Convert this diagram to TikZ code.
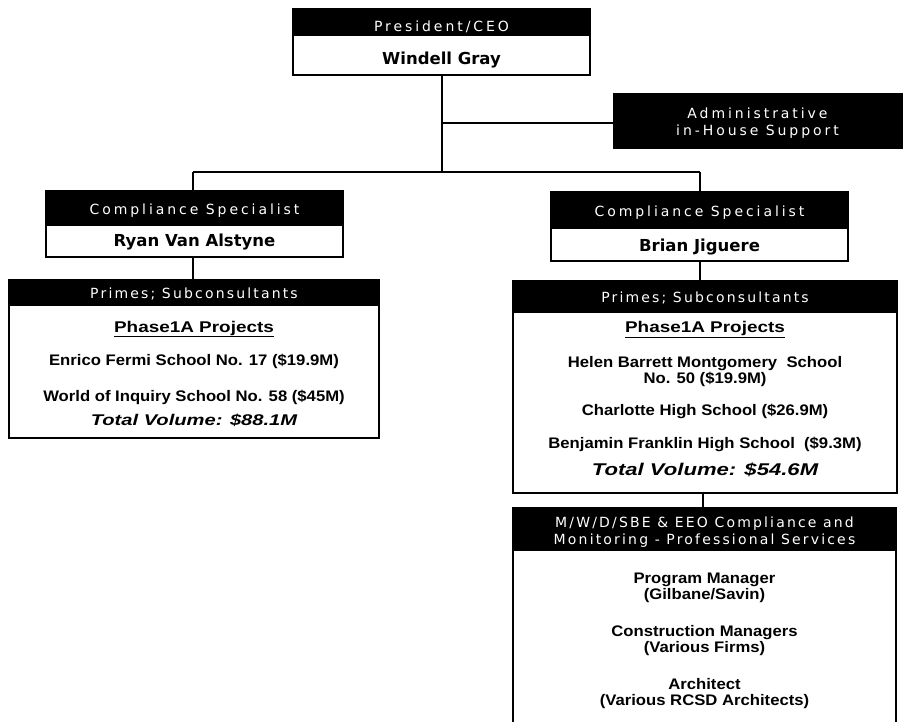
\documentclass[tikz,border=0pt]{standalone}
\usepackage{fontspec}
\newfontfamily\hdrfont[LetterSpace=21]{DejaVu Sans}
\newfontfamily\hdrnarrow[LetterSpace=15.5]{DejaVu Sans}
\newfontfamily\namefont{DejaVu Sans}
\newfontfamily\bodyfont[FakeStretch=1.09]{Liberation Sans}
\newfontfamily\phasefont[FakeStretch=1.22]{Liberation Sans}
\newfontfamily\totalfont[FakeStretch=1.3]{Liberation Sans}
\begin{document}
\begin{tikzpicture}[x=1pt,y=-1pt,
  boxhead/.style={draw=black,fill=black,line width=1pt,inner sep=0pt},
  boxbody/.style={draw=black,fill=white,line width=1.2pt,inner sep=0pt},
  hdrtxt/.style={text=white,font=\hdrfont\fontsize{14}{16}\selectfont,anchor=base,inner sep=0pt},
  hdrtxtn/.style={text=white,font=\hdrnarrow\fontsize{14}{16}\selectfont,anchor=base,inner sep=0pt},
  nametxt/.style={font=\namefont\bfseries\fontsize{16.5}{18}\selectfont,anchor=base,inner sep=0pt},
  bodytxt/.style={font=\bodyfont\bfseries\fontsize{15.3}{17}\selectfont,anchor=base,inner sep=0pt},
  phasetxt/.style={font=\phasefont\bfseries\fontsize{15.5}{17}\selectfont,anchor=base,inner sep=0pt},
  totaltxt/.style={font=\totalfont\bfseries\itshape\fontsize{15.5}{17}\selectfont,anchor=base,inner sep=0pt},
  conn/.style={line width=1.6pt}]
\useasboundingbox (0,0) rectangle (912,721);
\clip (0,0) rectangle (912,721);
% President
\node[boxbody,minimum width=297pt,minimum height=66pt] (pbox) at (441.5,42) {};
\node[boxhead,minimum width=297pt,minimum height=26pt] (phead) at (441.5,22) {};
\node[hdrtxt] (ptitle) at (441.5,31.5) {President/CEO};
\node[nametxt] (pname) at (441.5,64.5) {Windell Gray};
% Admin
\node[boxhead,minimum width=289pt,minimum height=55pt] (admin) at (757.5,120.5) {};
\node[hdrtxt] (adm1) at (757.5,118) {Administrative};
\node[hdrtxt] (adm2) at (757.5,135) {in-House Support};
% Left compliance
\node[boxbody,minimum width=297pt,minimum height=66pt] (lcbox) at (194.5,224) {};
\node[boxhead,minimum width=297pt,minimum height=34pt] (lchead) at (194.5,208) {};
\node[hdrtxt] (lctitle) at (194.5,214.5) {Compliance Specialist};
\node[nametxt] (lcname) at (194.5,246) {Ryan Van Alstyne};
% Right compliance
\node[boxbody,minimum width=297pt,minimum height=69pt] (rcbox) at (699.5,226.5) {};
\node[boxhead,minimum width=297pt,minimum height=36pt] (rchead) at (699.5,210) {};
\node[hdrtxt] (rctitle) at (699.5,216) {Compliance Specialist};
\node[nametxt] (rcname) at (699.5,251.5) {Brian Jiguere};
% Left primes
\node[boxbody,minimum width=370pt,minimum height=158pt] (lpbox) at (194,359) {};
\node[boxhead,minimum width=370pt,minimum height=25pt] (lphead) at (194,292.5) {};
\node[hdrtxtn] (lptitle) at (194,298.5) {Primes; Subconsultants};
\node[phasetxt] (lpphase) at (194,332) {\underline{Phase1A Projects}};
\node[bodytxt] (lp1) at (194,365) {Enrico Fermi School No. 17 (\$19.9M)};
\node[bodytxt] (lp2) at (194,401) {World of Inquiry School No. 58 (\$45M)};
\node[totaltxt] (lptot) at (194,425) {Total Volume: \$88.1M};
% Right primes
\node[boxbody,minimum width=384pt,minimum height=212pt] (rpbox) at (705,387) {};
\node[boxhead,minimum width=384pt,minimum height=31pt] (rphead) at (705,296.5) {};
\node[hdrtxtn] (rptitle) at (705,302) {Primes; Subconsultants};
\node[phasetxt] (rpphase) at (705,332.5) {\underline{Phase1A Projects}};
\node[bodytxt] (rp1a) at (705,367.5) {Helen Barrett Montgomery\ \ School};
\node[bodytxt] (rp1b) at (705,383) {No. 50 (\$19.9M)};
\node[bodytxt] (rp2) at (705,415.5) {Charlotte High School (\$26.9M)};
\node[bodytxt] (rp3) at (705,448) {Benjamin Franklin High School\ \ (\$9.3M)};
\node[totaltxt,font=\totalfont\bfseries\itshape\fontsize{17}{18}\selectfont] (rptot) at (705,475.5) {Total Volume: \$54.6M};
% MWD box
\node[boxbody,minimum width=383pt,minimum height=232pt] (mbox) at (704.5,624) {};
\node[boxhead,minimum width=383pt,minimum height=42pt] (mhead) at (704.5,529) {};
\node[hdrtxtn] (m1) at (704.5,527) {M/W/D/SBE \& EEO Compliance and};
\node[hdrtxtn] (m2) at (704.5,544) {Monitoring - Professional Services};
\node[bodytxt] (mb1) at (704.5,583) {Program Manager};
\node[bodytxt] (mb2) at (704.5,599) {(Gilbane/Savin)};
\node[bodytxt] (mb3) at (704.5,636) {Construction Managers};
\node[bodytxt] (mb4) at (704.5,652.5) {(Various Firms)};
\node[bodytxt] (mb5) at (704.5,689) {Architect};
\node[bodytxt] (mb6) at (704.5,705.5) {(Various RCSD Architects)};
% Connectors
\coordinate (busC) at (442,172);
\coordinate (busL) at (193,172);
\coordinate (busR) at (700,172);
\coordinate (admJ) at (442,123);
\draw[conn] (pbox.south -| busC) -- (busC);
\draw[conn] (admJ) -- (admJ -| admin.west);
\draw[conn] (busL) -- (busR);
\draw[conn] (busL) -- (busL |- lchead.north);
\draw[conn] (busR) -- (busR |- rchead.north);
\draw[conn] (lcbox.south -| busL) -- (busL |- lphead.north);
\draw[conn] (rcbox.south -| busR) -- (busR |- rphead.north);
\coordinate (mJ) at (703,500);
\draw[conn] (mJ |- rpbox.south) -- (mJ |- mhead.north);
\end{tikzpicture}
\end{document}
